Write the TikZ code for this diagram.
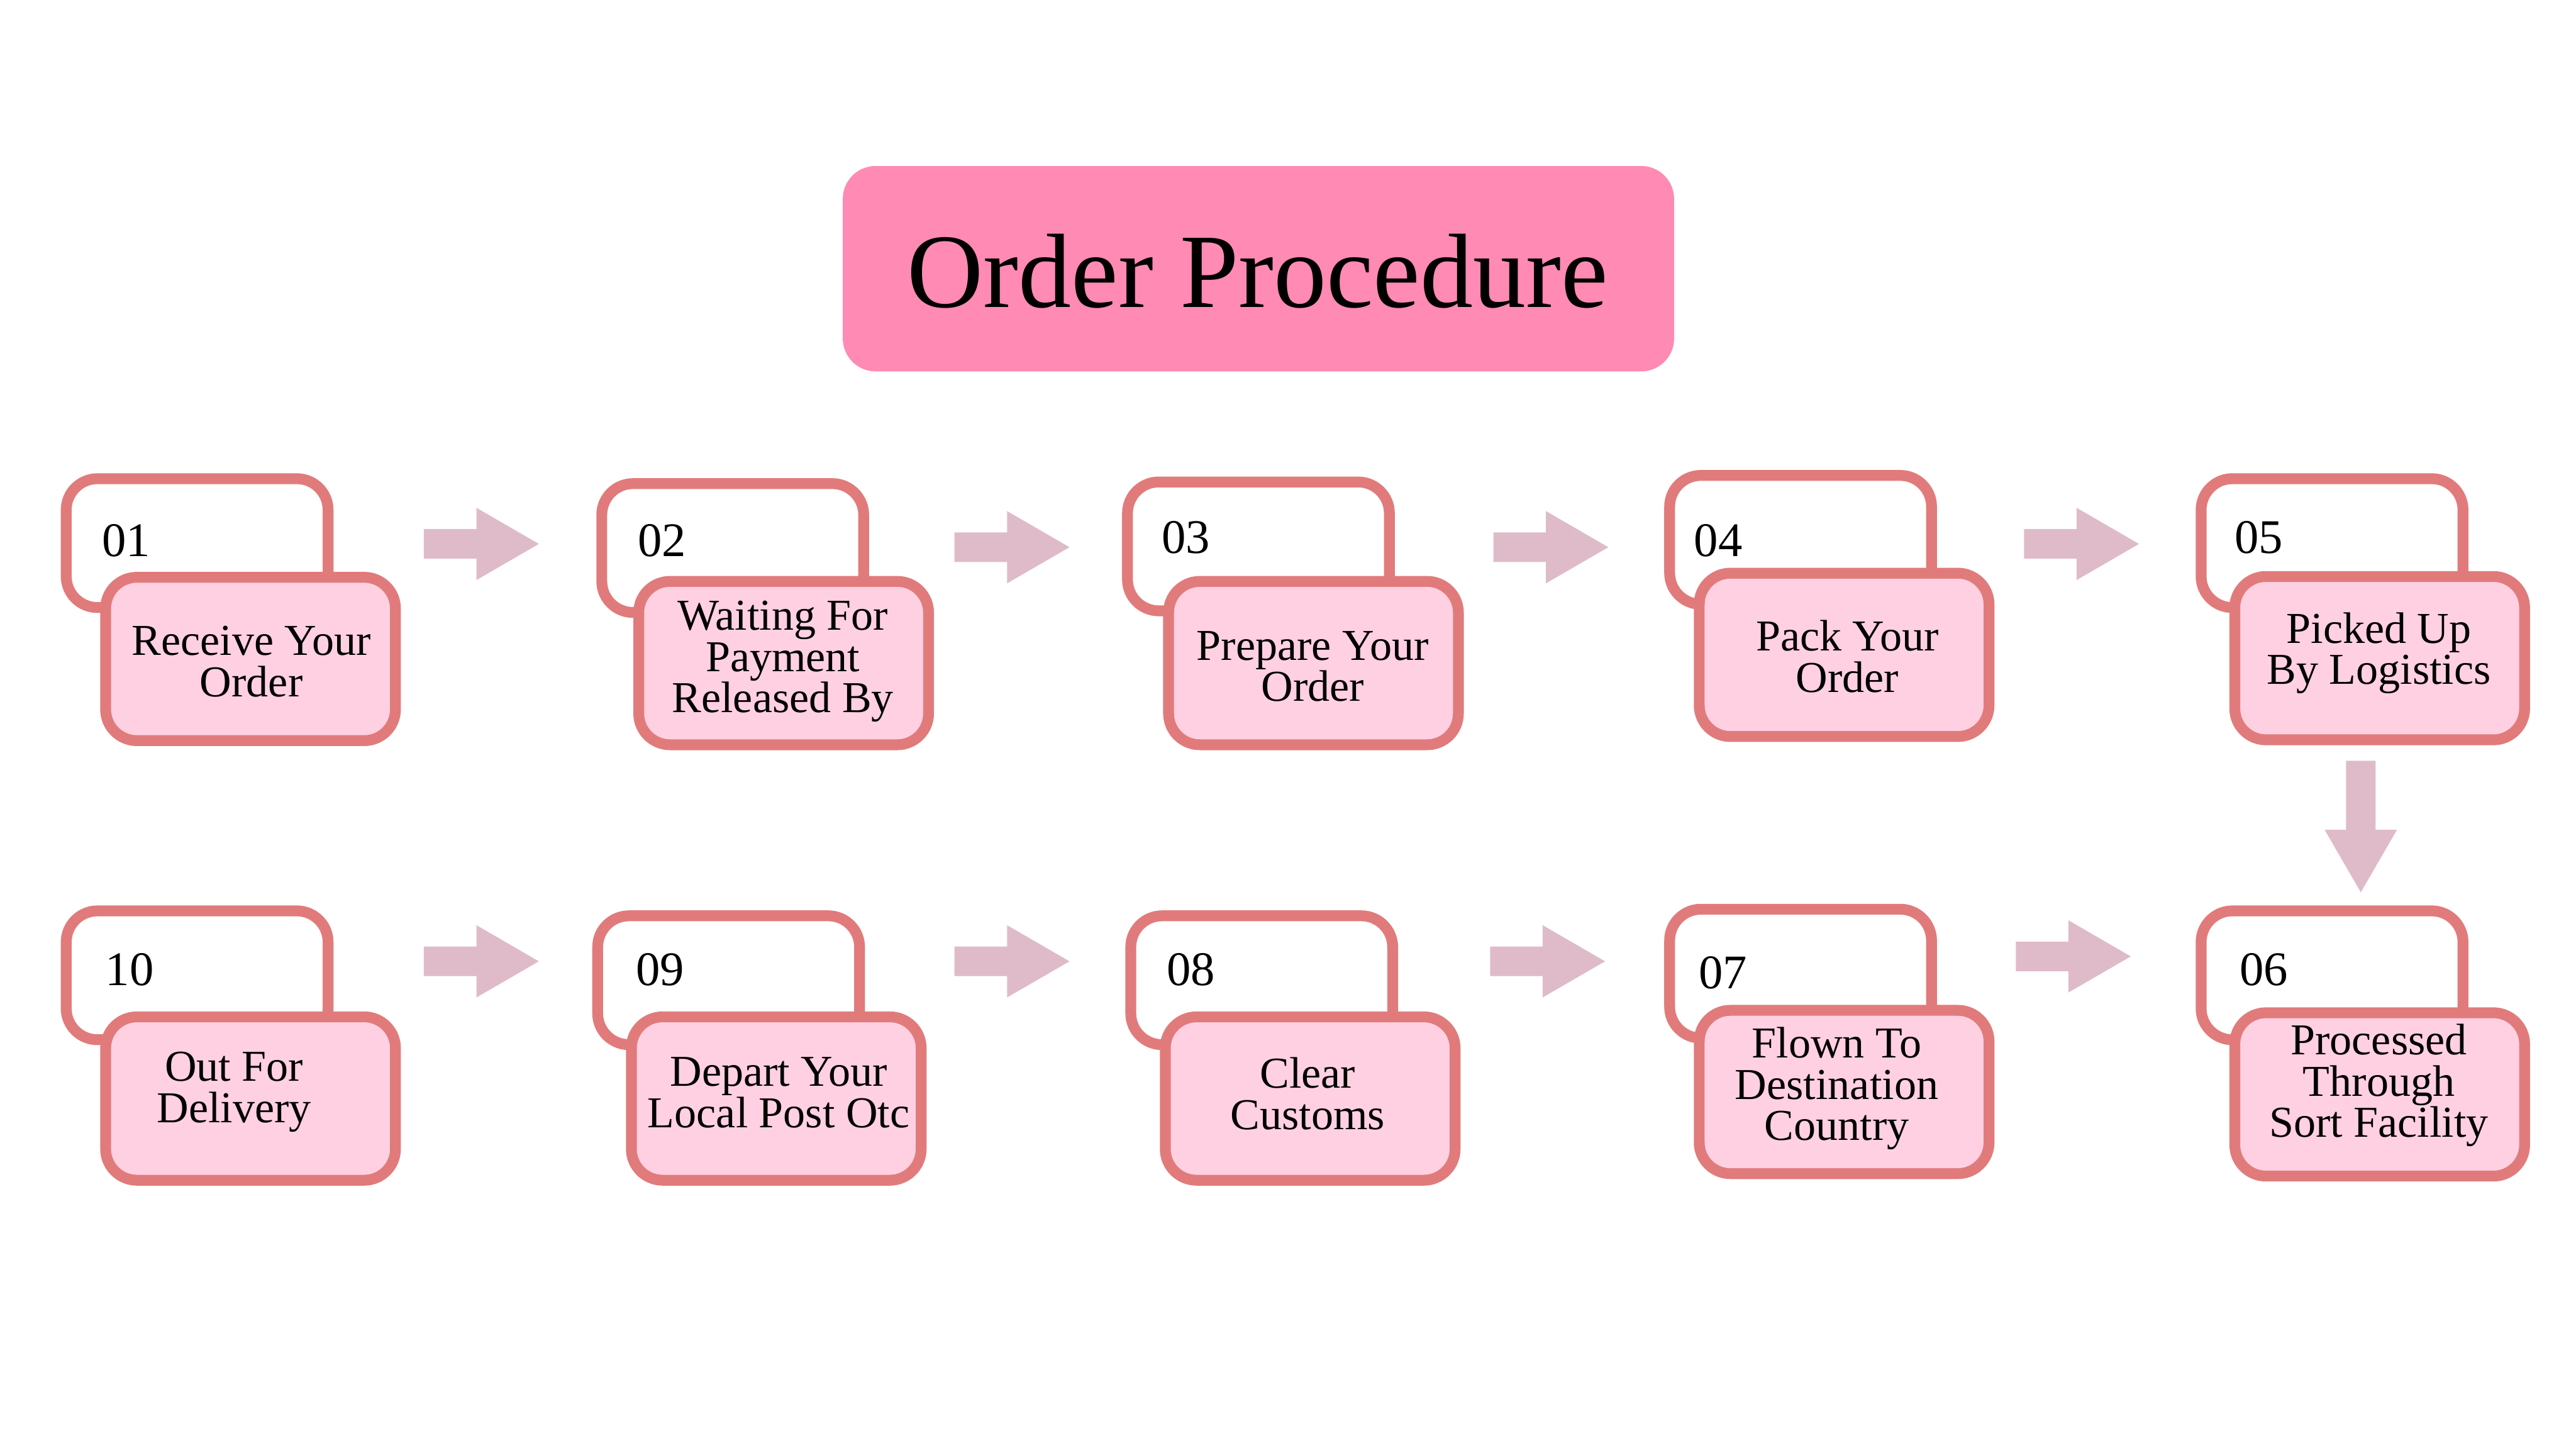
\documentclass[tikz,border=0pt]{standalone}
\usepackage{fontspec}
\setmainfont{Liberation Serif}
\definecolor{bord}{HTML}{E17B7B}
\definecolor{frontc}{HTML}{FFD0E2}
\definecolor{arrowc}{HTML}{DFBBCA}
\definecolor{titlec}{HTML}{FF8AB3}
\newlength\uu \setlength\uu{0.034713cm}
\tikzset{
 backbox/.style={draw=bord, line width=6.6\uu, fill=white, rounded corners=19\uu, minimum width=159.4\uu, minimum height=78.4\uu, inner sep=0pt},
 frontbox/.style={draw=bord, line width=6.6\uu, fill=frontc, rounded corners=19\uu, minimum width=176.4\uu, minimum height=99.4\uu, inner sep=0pt},
 numtxt/.style={anchor=west, inner sep=0pt, font=\fontsize{29}{29}\selectfont},
 steptxt/.style={align=center, inner sep=0pt, font=\fontsize{26.5}{24.8}\selectfont},
 rightarrow/.pic={\fill[arrowc] (0,-9) -- (32,-9) -- (32,-22) -- (70,0) -- (32,22) -- (32,9) -- (0,9) -- cycle;},
 downarrow/.pic={\fill[arrowc] (-9,0) -- (-9,42) -- (-22,42) -- (0,80) -- (22,42) -- (9,42) -- (9,0) -- cycle;}
}
\begin{document}
\begin{tikzpicture}[x=1\uu, y=-1\uu]
\useasboundingbox (0,0) rectangle (1568,882);
% title
\node[fill=titlec, rounded corners=20\uu, minimum width=506\uu, minimum height=125\uu, inner sep=0pt] (title) at (766,163.5) {};
\node[inner sep=0pt, font=\fontsize{63.5}{64}\selectfont] (titletxt) at (765.5,165) {Order Procedure};
% back boxes
\node[backbox] (b1) at (120,330.5) {};
\node[backbox] (b2) at (446,333.5) {};
\node[backbox] (b3) at (766,332.5) {};
\node[backbox] (b4) at (1096,328.5) {};
\node[backbox] (b5) at (1419.5,330.5) {};
\node[backbox] (b10) at (120,593.5) {};
\node[backbox] (b9) at (443.5,596.5) {};
\node[backbox] (b8) at (768,596.5) {};
\node[backbox] (b7) at (1096,592.5) {};
\node[backbox] (b6) at (1419.5,593.5) {};
% numbers
\node[numtxt] (n1) at (62,329) {01};
\node[numtxt] (n2) at (388,329) {02};
\node[numtxt] (n3) at (707,327) {03};
\node[numtxt] (n4) at (1031,329) {04};
\node[numtxt] (n5) at (1360,327) {05};
\node[numtxt] (n10) at (64,590) {10};
\node[numtxt] (n9) at (387,590) {09};
\node[numtxt] (n8) at (710,590) {08};
\node[numtxt] (n7) at (1034,592) {07};
\node[numtxt] (n6) at (1363,590) {06};
% front boxes
\node[frontbox] (f1) at (152.5,401) {};
\node[frontbox] (f2) at (477,403.5) {};
\node[frontbox] (f3) at (799.5,403.5) {};
\node[frontbox] (f4) at (1122.5,398.5) {};
\node[frontbox] (f5) at (1448.5,400.5) {};
\node[frontbox] (f10) at (152.5,668.5) {};
\node[frontbox] (f9) at (472.5,668.5) {};
\node[frontbox] (f8) at (797.5,668.5) {};
\node[frontbox] (f7) at (1122.5,664.5) {};
\node[frontbox] (f6) at (1448.5,666) {};
% texts
\node[steptxt] (t1) at (153,402.5) {Receive Your\\Order};
\node[steptxt] (t2) at (476.5,402.5) {Waiting For\\Payment\\Released By};
\node[steptxt] (t3) at (799,405.5) {Prepare Your\\Order};
\node[steptxt] (t4) at (1124.5,399.5) {Pack Your\\Order};
\node[steptxt] (t5) at (1448,397.5) {Picked Up\\By Logistics};
\node[steptxt] (t10) at (142.5,664.5) {Out For\\Delivery};
\node[steptxt] (t9) at (474,665) {Depart Your\\Local Post Otc};
\node[steptxt] (t8) at (796,665.5) {Clear\\Customs};
\node[steptxt] (t7) at (1118,662.5) {Flown To\\Destination\\Country};
\node[steptxt] (t6) at (1448,660.5) {Processed\\Through\\Sort Facility};
% arrows
\pic (a12) at (258,331) {rightarrow};
\pic (a23) at (581,333) {rightarrow};
\pic (a34) at (909,333) {rightarrow};
\pic (a45) at (1232,331) {rightarrow};
\pic (a56) at (1437,463) {downarrow};
\pic (a109) at (258,585) {rightarrow};
\pic (a98) at (581,585) {rightarrow};
\pic (a87) at (907,585) {rightarrow};
\pic (a76) at (1227,582) {rightarrow};
\end{tikzpicture}
\end{document}
